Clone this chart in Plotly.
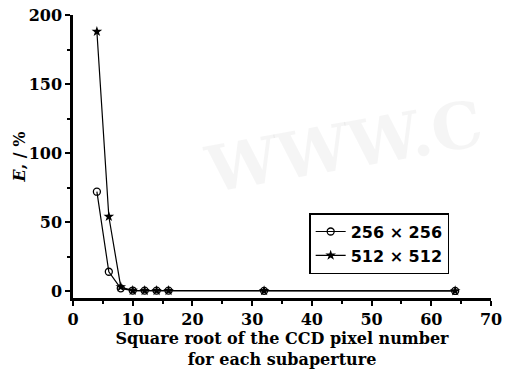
import plotly.graph_objects as go

# Square root of the CCD pixel number per subaperture
x_vals = [4, 6, 8, 10, 12, 14, 16, 32, 64]
# Relative error E, (%) for two CCD sizes
err_256 = [72, 14, 2, 0.4, 0.3, 0.3, 0.3, 0.2, 0.1]
err_512 = [188, 54, 3, 0.4, 0.3, 0.3, 0.3, 0.2, 0.1]
series_names = ["256 × 256", "512 × 512"]

x_ticks = [0, 10, 20, 30, 40, 50, 60, 70]
y_ticks = [0, 50, 100, 150, 200]

serif = "DejaVu Serif"

fig = go.Figure()
fig.add_trace(go.Scatter(
    x=x_vals, y=err_256, name=series_names[0], mode="lines+markers",
    line=dict(color="black", width=1.2),
    marker=dict(symbol="circle-open", size=7, color="black", line=dict(width=1.3)),
))
fig.add_trace(go.Scatter(
    x=x_vals, y=err_512, name=series_names[1], mode="lines+markers",
    line=dict(color="black", width=1.2),
    marker=dict(symbol="star", size=8, color="black"),
))

# faint watermark in the background
fig.add_annotation(
    text="WWW.C", x=1.0, y=0.76, xref="paper", yref="paper",
    xanchor="right", showarrow=False, textangle=-10,
    font=dict(family=serif, size=64, color="rgba(0,0,0,0.04)"),
)

fig.update_layout(
    width=508, height=370,
    margin=dict(l=73, r=6, t=15, b=72),
    paper_bgcolor="white", plot_bgcolor="white",
    font=dict(family=serif, size=16, color="black", weight="bold"),
    showlegend=True,
    legend=dict(
        x=0.565, y=0.30, xanchor="left", yanchor="top",
        bordercolor="black", borderwidth=1.5, bgcolor="white",
        font=dict(family="DejaVu Sans", size=16, color="black", weight="bold"),
        tracegroupgap=0, itemwidth=30,
    ),
    xaxis=dict(
        range=[0, 70], tickvals=x_ticks, showgrid=False, zeroline=False,
        showline=True, linecolor="black", linewidth=2.5,
        ticks="outside", ticklen=5, tickwidth=2, tickcolor="black",
        ticklabeloverflow="allow",
        minor=dict(dtick=5, ticks="outside", ticklen=3, tickwidth=1.5, tickcolor="black"),
        title=dict(
            text="Square root of the CCD pixel number<br>for each subaperture",
            font=dict(family=serif, size=16, weight="bold"), standoff=2,
        ),
        tickfont=dict(family=serif, size=16, weight="bold"),
    ),
    yaxis=dict(
        range=[-5, 200], tickvals=y_ticks, showgrid=False, zeroline=False,
        showline=True, linecolor="black", linewidth=2.5,
        ticks="outside", ticklen=5, tickwidth=2, tickcolor="black",
        minor=dict(dtick=25, ticks="outside", ticklen=3, tickwidth=1.5, tickcolor="black"),
        title=dict(text="<i>E</i>, / %", font=dict(family=serif, size=16, weight="bold"), standoff=0),
        tickfont=dict(family=serif, size=16, weight="bold"),
    ),
)

fig.write_html("out.html")
